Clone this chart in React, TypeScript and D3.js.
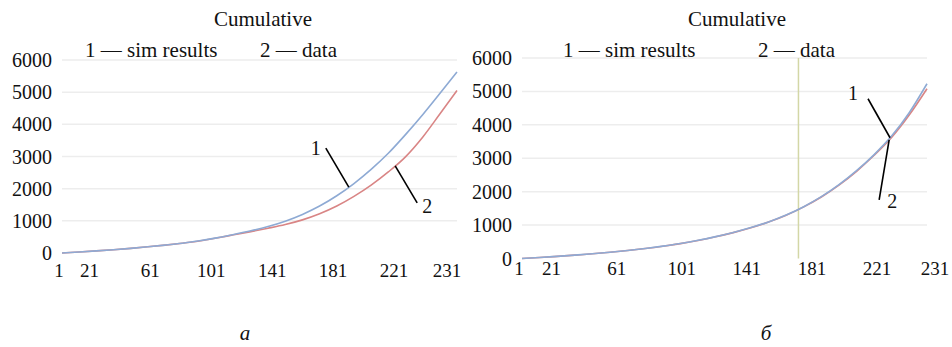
import * as React from 'react'
import * as d3 from 'd3'

// day index of every sample (category axis)
const days = [1, 11, 21, 31, 41, 51, 61, 71, 81, 91, 101, 111, 121, 131, 141, 151, 161, 171, 181, 191, 201, 211, 221, 231]

// panel a
const simA = [0, 30, 65, 103, 145, 192, 245, 305, 380, 470, 575, 690, 825, 990, 1200, 1460, 1780, 2160, 2600, 3100, 3680, 4300, 4960, 5630]
const dataA = [0, 30, 65, 103, 145, 192, 245, 305, 375, 465, 565, 665, 770, 885, 1030, 1220, 1460, 1760, 2110, 2520, 2990, 3600, 4320, 5050]

// panel б
const simB = [0, 30, 65, 102, 142, 188, 240, 300, 370, 450, 545, 655, 780, 925, 1095, 1300, 1550, 1850, 2210, 2630, 3110, 3670, 4370, 5230]
const dataB = [0, 29, 63, 100, 140, 186, 238, 297, 366, 446, 540, 650, 775, 920, 1090, 1295, 1545, 1840, 2195, 2610, 3090, 3630, 4300, 5080]

const xTickLabels = [1, 21, 61, 101, 141, 181, 221, 231]
const yTicks = [0, 1000, 2000, 3000, 4000, 5000, 6000]

const TXT: React.CSSProperties = { fontFamily: 'Liberation Serif', fill: '#111' }
const SIM_COLOR = '#8eaad4'
const DATA_COLOR = '#d98585'

interface Callout {
    label: string
    series: 'sim' | 'data'
    day: number
    dx: number
    dy: number
    tx: number
    ty: number
}

interface PanelProps {
    sim: number[]
    data: number[]
    x0: number
    x1: number
    y0: number
    y1: number
    labelSpan: number
    lastDx: number
    labelY: number
    titleX: number
    legend1X: number
    legend2X: number
    captionX: number
    caption: string
    marker?: number
    callouts: Callout[]
}

const panels: PanelProps[] = [
    {
        sim: simA, data: dataA,
        x0: 62, x1: 457, y0: 253, y1: 60,
        labelSpan: 335, lastDx: -10, labelY: 277,
        titleX: 263, legend1X: 85, legend2X: 260, captionX: 245, caption: 'а',
        callouts: [
            { label: '1', series: 'sim', day: 168, dx: -23, dy: -39, tx: -38, ty: -32 },
            { label: '2', series: 'data', day: 195, dx: 22, dy: 37, tx: 27, ty: 47 },
        ],
    },
    {
        sim: simB, data: dataB,
        x0: 522, x1: 927, y0: 258.5, y1: 58,
        labelSpan: 358, lastDx: 8, labelY: 275,
        titleX: 737, legend1X: 563, legend2X: 758, captionX: 766, caption: 'б',
        marker: 158,
        callouts: [
            { label: '1', series: 'sim', day: 210, dx: -22, dy: -39, tx: -42, ty: -38 },
            { label: '2', series: 'data', day: 209.5, dx: -10, dy: 60, tx: -2, ty: 68 },
        ],
    },
]

function Panel(p: PanelProps) {
    const x = d3.scaleLinear().domain([1, 231]).range([p.x0, p.x1])
    const y = d3.scaleLinear().domain([0, 6000]).range([p.y0, p.y1])
    const tx = d3.scaleLinear().domain([1, 221]).range([p.x0 - 3, p.x0 - 3 + p.labelSpan])

    const line = d3.line<number>()
        .x((d, i) => x(days[i]))
        .y(d => y(d))
        .curve(d3.curveMonotoneX)

    return (
        <g>
            {/* grid */}
            {yTicks.filter(d => d > 0).map(d => (
                <line key={d} x1={p.x0} x2={p.x1} y1={y(d)} y2={y(d)} stroke='#ededed' strokeWidth={1.5} />
            ))}

            {/* y labels */}
            {yTicks.map(d => (
                <text key={d} x={p.x0 - 10} y={y(d)} dy='0.35em' textAnchor='end' fontSize={20} style={TXT}>{d}</text>
            ))}

            {/* x labels */}
            {xTickLabels.map(d => (
                <text key={d} x={d === 231 ? p.x1 + p.lastDx : tx(d)} y={p.labelY} textAnchor='middle' fontSize={19} style={TXT}>{d}</text>
            ))}

            {p.marker !== undefined &&
                <line x1={x(p.marker)} x2={x(p.marker)} y1={y(6000)} y2={y(0)} stroke='#d3d7a6' strokeWidth={1.5} />}

            <path d={line(p.data) || ''} fill='none' stroke={DATA_COLOR} strokeWidth={1.6} />
            <path d={line(p.sim) || ''} fill='none' stroke={SIM_COLOR} strokeWidth={1.6} />

            {/* callouts */}
            {p.callouts.map(c => {
                const series = c.series === 'sim' ? p.sim : p.data
                const v = d3.scaleLinear().domain(days).range(series)(c.day)
                const px = x(c.day)
                const py = y(v)
                return (
                    <g key={c.label}>
                        <line x1={px} y1={py} x2={px + c.dx} y2={py + c.dy} stroke='#000' strokeWidth={1.6} />
                        <text x={px + c.tx} y={py + c.ty} fontSize={20} style={TXT}>{c.label}</text>
                    </g>
                )
            })}

            {/* title + legend */}
            <text x={p.titleX} y={26} textAnchor='middle' fontSize={21} style={TXT}>Cumulative</text>
            <text x={p.legend1X} y={57} fontSize={21} style={TXT}>1 — sim results</text>
            <text x={p.legend2X} y={57} fontSize={21} style={TXT}>2 — data</text>

            <text x={p.captionX} y={340} textAnchor='middle' fontSize={21} fontStyle='italic' style={TXT}>{p.caption}</text>
        </g>
    )
}

export default function App() {
    return (
        <svg width={952} height={347} style={{ position: 'absolute', left: 0, top: 0, background: '#fff' }}>
            {panels.map((p, i) => <Panel key={i} {...p} />)}
        </svg>
    )
}
